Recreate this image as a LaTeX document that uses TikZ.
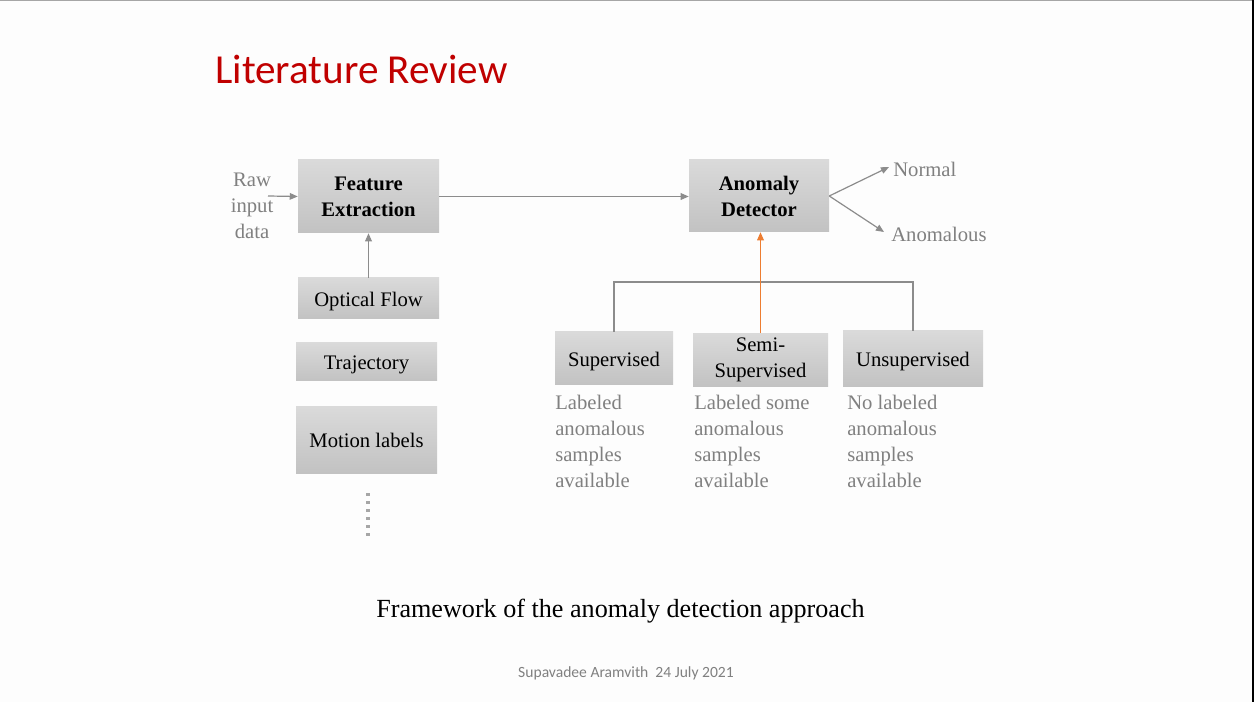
\documentclass[tikz,border=0pt]{standalone}
\usepackage{fontspec}
\setmainfont{Liberation Serif}
\newfontfamily\calibri{Carlito}
\usetikzlibrary{arrows.meta}

\definecolor{slidebg}{RGB}{253,253,253}
\definecolor{titlered}{RGB}{192,0,0}
\definecolor{linegray}{RGB}{140,140,140}
\definecolor{textgray}{RGB}{128,128,128}
\definecolor{boxtop}{RGB}{218,218,218}
\definecolor{boxbot}{RGB}{194,194,194}
\definecolor{accent}{RGB}{237,125,49}

\tikzset{
  stage/.style={top color=boxtop, bottom color=boxbot, inner sep=0pt, align=center,
    font=\fontsize{15.5}{19.5}\selectfont},
  oneline/.style={text height=12pt, text depth=0pt},
  connector/.style={draw=linegray, line width=0.9pt, -{Triangle[length=6pt,width=5pt]}},
  plainline/.style={draw=linegray, line width=0.9pt},
  note/.style={text=textgray, inner sep=0pt, align=left, font=\fontsize{15.5}{19.5}\selectfont},
}

\begin{document}
\begin{tikzpicture}[x=0.75pt, y=-0.75pt]
  % slide canvas
  \fill[slidebg] (0,0) rectangle (1254,702);
  \useasboundingbox (0,0) rectangle (1254,702);
  \fill[black!35] (0,0) rectangle (1254,1.5);
  \fill[black] (1251.5,0) rectangle (1254,702);

  % heading
  \node[anchor=base west, inner sep=0pt, text=titlered, font=\calibri\fontsize{30.9}{36}\selectfont]
    (heading) at (215,84) {Literature Review};

  % pipeline boxes
  \node[stage, minimum width=105.75pt, minimum height=54.75pt, font=\bfseries\fontsize{15.5}{19.5}\selectfont]
    (feat) at (368.5,196.5) {Feature\\Extraction};
  \node[stage, minimum width=105pt, minimum height=54pt, font=\bfseries\fontsize{15.5}{19.5}\selectfont]
    (det) at (759,196) {Anomaly\\Detector};

  \node[stage, oneline, minimum width=105.75pt, minimum height=30.75pt] (flow) at (368.5,298.5) {Optical Flow};
  \node[stage, oneline, minimum width=105.75pt, minimum height=28.5pt] (traj) at (366.5,362) {Trajectory};
  \node[stage, oneline, minimum width=105.75pt, minimum height=49.5pt] (motion) at (366.5,440) {Motion labels};

  % continuation dots under the feature list
  \draw[draw=black!35, line width=2.6pt, dash pattern=on 2.6pt off 3.4pt] (368,493) -- (368,536);

  % learning settings
  \node[stage, oneline, minimum width=88.5pt, minimum height=39.75pt] (sup) at (614,358.5) {Supervised};
  \node[stage, minimum width=101.25pt, minimum height=39.75pt] (semi) at (760.5,360) {Semi-\\Supervised};
  \node[stage, oneline, minimum width=105pt, minimum height=42pt] (unsup) at (913,359) {Unsupervised};

  % input and outputs
  \node[note, align=center] (raw) at (252,206) {Raw\\input\\data};
  \coordinate (rawend) at (268,196);
  \node[note, anchor=west] (normal) at (893,169) {Normal};
  \node[note, anchor=west] (anom) at (891,234) {Anomalous};
  \coordinate (tonormal) at (889,167);
  \coordinate (toanom) at (884,232);

  % descriptions under the learning settings (anchored on the last line)
  \node[note, anchor=base west] (supnote) at (555,487) {Labeled\\anomalous\\samples\\available};
  \node[note, anchor=base west] (seminote) at (694,487) {Labeled some\\anomalous\\samples\\available};
  \node[note, anchor=base west] (unsupnote) at (847,487) {No labeled\\anomalous\\samples\\available};

  % connectors
  \draw[connector] (rawend) -- (feat.west);
  \draw[connector] (feat.east) -- (det.west |- feat.east);
  \draw[connector] (flow.north) -- (feat.south);
  \draw[connector] (det.east) -- (tonormal);
  \draw[connector] (det.east) -- (toanom);
  \draw[plainline] (sup.north) -- (sup.north |- 0,282) -| (unsup.north);
  \draw[connector, draw=accent] (semi.north) -- (semi.north |- det.south);

  % caption and footer
  \node[anchor=base, inner sep=0pt, font=\fontsize{19.6}{23}\selectfont] (caption) at (620.5,617)
    {Framework of the anomaly detection approach};
  \node[anchor=base, inner sep=0pt, text=textgray, font=\calibri\fontsize{11.7}{14}\selectfont] (footer) at (626,677)
    {Supavadee Aramvith\ \ 24 July 2021};
\end{tikzpicture}
\end{document}
